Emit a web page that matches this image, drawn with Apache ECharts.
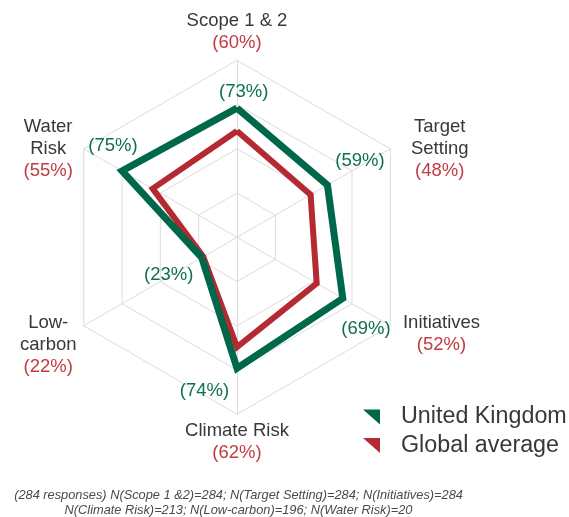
<!DOCTYPE html>
<html>
<head>
<meta charset="utf-8">
<script src="https://cdn.jsdelivr.net/npm/echarts@6/dist/echarts.min.js"></script>
<style>
  html, body { margin: 0; padding: 0; background: #ffffff; }
  #chart { width: 569px; height: 517px; }
</style>
</head>
<body>
<div id="chart"></div>
<script>
// Indicators, counter-clockwise from the top
const indicatorNames = ['Scope 1 & 2', 'Water Risk', 'Low-carbon', 'Climate Risk', 'Initiatives', 'Target Setting'];
const indicatorLines = [['Scope 1 & 2'], ['Water', 'Risk'], ['Low-', 'carbon'], ['Climate Risk'], ['Initiatives'], ['Target', 'Setting']];
const ukValues = [73, 75, 23, 74, 69, 59];
const globalValues = [60, 55, 22, 62, 52, 48];
const seriesNames = ['United Kingdom', 'Global average'];
const footnoteLines = [
  '(284 responses) N(Scope 1 &2)=284; N(Target Setting)=284; N(Initiatives)=284',
  'N(Climate Risk)=213; N(Low-carbon)=196; N(Water Risk)=20'
];

const ukColor = '#00684a';
const globalColor = '#b52a32';
const ukText = '#0f6f51';
const globalText = '#c23a42';
const nameText = '#383838';
const gridColor = '#dcdcdc';
const FONT = '"Liberation Sans", Arial, Helvetica, sans-serif';
const CENTER = [237, 237.3];
const RADIUS = 177;

// per-indicator nudges of the axis-name blocks: [padLeft, padRight, topSpacer]
const nameNudge = [[0, 0, 0], [0, 5.7, 6], [0, 2, 32], [0, 0, 0], [7.5, 0, 9.4], [15.5, 0, 5.4]];
// value-label offsets from each United Kingdom vertex
const valueOffsets = [[6.7, -16.4], [-9, -25.2], [-33.1, 17.6], [-32.5, 22.5], [23.2, 30.6], [32.6, -24.1]];

const rich = {};
nameNudge.forEach(function (nz, k) {
  rich['n' + k] = { fontSize: 18.5, lineHeight: 22, color: nameText, align: 'center', fontFamily: FONT, padding: [0, nz[1], 0, nz[0]] };
  rich['v' + k] = { fontSize: 18.5, lineHeight: 22, color: globalText, align: 'center', fontFamily: FONT, padding: [0, nz[1], 0, nz[0]] };
  rich['s' + k] = { fontSize: 1, lineHeight: nz[2], align: 'center' };
});

const chart = echarts.init(document.getElementById('chart'), null, { renderer: 'canvas' });

chart.setOption({
  animation: false,
  backgroundColor: '#ffffff',
  legend: {
    orient: 'vertical',
    left: 358,
    top: 398,
    itemWidth: 17,
    itemHeight: 15,
    itemGap: 0.5,
    icon: 'path://M0,0L17,0L17,15Z',
    selectedMode: false,
    data: [
      { name: seriesNames[0], itemStyle: { color: ukColor } },
      { name: seriesNames[1], itemStyle: { color: globalColor } }
    ],
    textStyle: { fontSize: 23.3, lineHeight: 28, color: nameText, fontFamily: FONT, padding: [0, 0, 0, 16] }
  },
  radar: {
    center: CENTER,
    radius: RADIUS,
    startAngle: 90,
    shape: 'polygon',
    splitNumber: 4,
    nameGap: 6,
    indicator: indicatorNames.map(function (n) { return { name: n, min: 0, max: 100 }; }),
    axisName: {
      formatter: function (name) {
        const k = indicatorNames.indexOf(name);
        const parts = [];
        if (nameNudge[k][2] > 0) parts.push('{s' + k + '|\u00a0}');
        indicatorLines[k].forEach(function (l) { parts.push('{n' + k + '|' + l + '}'); });
        parts.push('{v' + k + '|(' + globalValues[k] + '%)}');
        return parts.join('\n');
      },
      rich: rich
    },
    splitLine: { lineStyle: { color: gridColor, width: 1 } },
    splitArea: { show: false },
    axisLine: { lineStyle: { color: gridColor, width: 1 } },
    axisTick: { show: false },
    axisLabel: { show: false }
  },
  series: [{
    type: 'radar',
    silent: true,
    symbol: 'circle',
    symbolSize: 2,
    data: [
      {
        name: seriesNames[1],
        value: globalValues,
        itemStyle: { color: globalColor },
        lineStyle: { color: globalColor, width: 6, join: 'miter', miterLimit: 10 },
        label: { show: false }
      },
      {
        name: seriesNames[0],
        value: ukValues,
        itemStyle: { color: ukColor },
        lineStyle: { color: ukColor, width: 7, join: 'miter', miterLimit: 10 },
        label: {
          show: true,
          color: ukText,
          fontSize: 18.5,
          fontFamily: FONT,
          formatter: function (p) { return '(' + p.value + '%)'; }
        }
      }
    ],
    labelLayout: function (p) {
      const cx = p.rect.x + p.rect.width / 2;
      const cy = p.rect.y + p.rect.height / 2;
      const ang = Math.atan2(-(cy - CENTER[1]), cx - CENTER[0]) * 180 / Math.PI;
      const k = ((Math.round((ang - 90) / 60) % 6) + 6) % 6;
      const o = valueOffsets[k];
      return { x: cx + o[0], y: cy + o[1], align: 'center', verticalAlign: 'middle' };
    }
  }],
  graphic: footnoteLines.map(function (t, i) {
    return {
      type: 'text',
      x: 238.5,
      y: 495 + i * 15.5,
      silent: true,
      style: {
        text: t,
        align: 'center',
        verticalAlign: 'middle',
        fill: '#4a4a4a',
        font: 'italic 12.8px ' + FONT
      }
    };
  })
});
</script>
</body>
</html>
